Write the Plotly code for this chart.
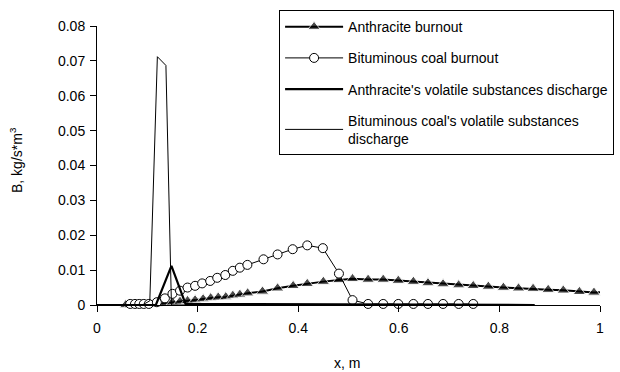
import plotly.graph_objects as go

# Anthracite burnout (triangles)
anth_x = [0.057, 0.066, 0.074, 0.083, 0.091, 0.099, 0.107, 0.119, 0.135, 0.150, 0.165,
          0.180, 0.195, 0.211, 0.226, 0.241, 0.256, 0.270, 0.284, 0.2995, 0.329, 0.359,
          0.390, 0.418, 0.450, 0.481, 0.508, 0.539, 0.569, 0.599, 0.629, 0.658, 0.688,
          0.719, 0.748, 0.778, 0.808, 0.838, 0.867, 0.897, 0.927, 0.959, 0.988, 1.012]
anth_y = [0.0, 0.0, 0.0, 0.0, 0.0, 0.0001, 0.0002, 0.0003, 0.0005, 0.0008, 0.0010,
          0.0012, 0.0014, 0.0017, 0.0020, 0.0022, 0.0023, 0.0027, 0.0030, 0.0034, 0.0039, 0.0048,
          0.0055, 0.0061, 0.0067, 0.0072, 0.0075, 0.0073, 0.0073, 0.0070, 0.0067, 0.0063, 0.0060,
          0.0057, 0.0055, 0.0053, 0.0050, 0.0048, 0.0047, 0.0044, 0.0042, 0.0038, 0.0036, 0.0037]

# Bituminous coal burnout (open circles)
bit_x = [0.066, 0.0755, 0.084, 0.093, 0.103, 0.119, 0.135, 0.150, 0.165, 0.180, 0.195,
         0.209, 0.225, 0.239, 0.255, 0.270, 0.284, 0.299, 0.331, 0.359, 0.389, 0.418,
         0.449, 0.481, 0.508, 0.539, 0.569, 0.599, 0.629, 0.658, 0.688, 0.719, 0.748]
bit_y = [0.0003, 0.0003, 0.0003, 0.0003, 0.0003, 0.0008, 0.0019, 0.0032, 0.0041, 0.0050, 0.0055,
         0.0062, 0.0069, 0.0078, 0.0086, 0.0098, 0.0107, 0.0115, 0.0131, 0.0145, 0.0160, 0.0171,
         0.0163, 0.0090, 0.0014, 0.0003, 0.0003, 0.0003, 0.0003, 0.0003, 0.0003, 0.0003, 0.0003]

# Volatile substances discharge
anth_vol_x = [0.0, 0.117, 0.148, 0.176, 0.87]
anth_vol_y = [0.0, 0.0, 0.0112, 0.0003, 0.0]
bit_vol_x = [0.0, 0.090, 0.105, 0.120, 0.137, 0.148, 0.87]
bit_vol_y = [0.0, 0.0, 0.0012, 0.0712, 0.0687, 0.0, 0.0]

x_ticks = [0, 0.2, 0.4, 0.6, 0.8, 1]
y_ticks = [0, 0.01, 0.02, 0.03, 0.04, 0.05, 0.06, 0.07, 0.08]

FONT = "Liberation Sans, Arial, sans-serif"

# last anthracite point only carries the line past x = 1
anth_marker_sizes = [11] * (len(anth_x) - 1) + [0]

fig = go.Figure()
fig.add_trace(go.Scatter(
    x=anth_x, y=anth_y, mode="lines+markers", name="Anthracite burnout",
    line=dict(color="black", width=2),
    marker=dict(symbol="triangle-up", size=anth_marker_sizes, color="black"),
    cliponaxis=False, legendgroup="a"))
fig.add_trace(go.Scatter(
    x=bit_x, y=bit_y, mode="lines+markers", name="Bituminous coal burnout",
    line=dict(color="black", width=1),
    marker=dict(symbol="circle", size=9, color="white", line=dict(color="black", width=1)),
    cliponaxis=False, legendgroup="b"))
fig.add_trace(go.Scatter(
    x=anth_vol_x, y=anth_vol_y, mode="lines",
    name="Anthracite's volatile substances discharge",
    line=dict(color="black", width=2.2), legendgroup="c"))
fig.add_trace(go.Scatter(
    x=bit_vol_x, y=bit_vol_y, mode="lines",
    name="Bituminous coal's volatile substances<br>discharge",
    line=dict(color="black", width=1), legendgroup="d"))

fig.update_layout(
    width=620, height=372,
    margin=dict(l=97, r=20, t=26, b=67, autoexpand=False),
    paper_bgcolor="white", plot_bgcolor="white",
    font=dict(family=FONT, size=14, color="black"),
    showlegend=True,
    legend=dict(
        x=0.362, y=1.057, xanchor="left", yanchor="top",
        bgcolor="white", bordercolor="black", borderwidth=1,
        font=dict(family=FONT, size=14, color="black"),
        tracegroupgap=10, itemwidth=58,
    ),
    xaxis=dict(
        range=[0, 1], tickvals=x_ticks, ticktext=[str(v) for v in x_ticks],
        showgrid=False, zeroline=False, showline=True, linecolor="black", linewidth=1,
        ticks="outside", ticklen=6, tickcolor="black", ticklabelstandoff=4,
    ),
    yaxis=dict(
        range=[0, 0.08], tickvals=y_ticks, ticktext=["0"] + [f"{v:.2f}" for v in y_ticks[1:]],
        showgrid=False, zeroline=False, showline=True, linecolor="black", linewidth=1,
        ticks="outside", ticklen=6, tickcolor="black", ticklabelstandoff=2,
    ),
    annotations=[
        dict(text="x, m", xref="paper", yref="paper", x=(347 - 97) / 503, y=(305 - 363) / 279,
             showarrow=False, xanchor="center", yanchor="middle", font=dict(size=14)),
        dict(text="B, kg/s*m<sup>3</sup>", xref="paper", yref="paper",
             x=(16 - 97) / 503, y=(305 - 160) / 279, textangle=-90,
             showarrow=False, xanchor="center", yanchor="middle", font=dict(size=14)),
    ],
)

fig.write_html("out.html")
